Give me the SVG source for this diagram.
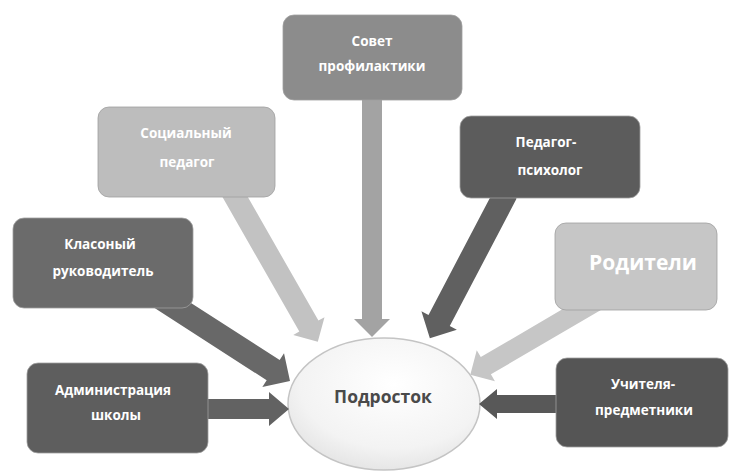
<svg xmlns="http://www.w3.org/2000/svg" width="730" height="472" viewBox="0 0 730 472">
<defs>
<radialGradient id="eg" cx="0.55" cy="0.35" r="0.75">
<stop offset="0" stop-color="#ffffff"/>
<stop offset="0.65" stop-color="#f3f3f3"/>
<stop offset="1" stop-color="#dedede"/>
</radialGradient>
</defs>
<style>
.box{stroke:#a0a0a0;stroke-width:0.8}
.t{font-family:"Open Sans","DejaVu Sans",sans-serif;font-weight:bold;fill:#ffffff;text-anchor:middle;font-size:13.5px}
.c{font-family:"Open Sans","DejaVu Sans",sans-serif;font-weight:bold;fill:#4a4a4a;text-anchor:middle;font-size:17.5px}
</style>
<rect width="730" height="472" fill="#ffffff"/>
<g id="podrostok">
<ellipse cx="384" cy="404" rx="96" ry="66" fill="url(#eg)" stroke="#c4c4c4" stroke-width="1.5"/>
<text class="c" x="383" y="403">Подросток</text>
</g>
<g id="connectors">
<path transform="translate(372,90) rotate(90)" d="M0,-10 H229 V-18 L247,0 L229,18 V10 H0Z" fill="#a3a3a3"/>
<path transform="translate(230,188) rotate(60.26)" d="M0,-11 H159 V-18 L177,0 L159,18 V11 H0Z" fill="#c2c2c2"/>
<path transform="translate(506,193) rotate(117.66)" d="M0,-12 H144 V-20 L164,0 L144,20 V12 H0Z" fill="#606060"/>
<path transform="translate(158,296) rotate(32.78)" d="M0,-12 H137 V-20 L157,0 L137,20 V12 H0Z" fill="#686868"/>
<path transform="translate(598,300) rotate(149.63)" d="M0,-10 H130 V-18 L148,0 L130,18 V10 H0Z" fill="#c6c6c6"/>
<path transform="translate(200,409) rotate(0)" d="M0,-10 H69 V-17 L89,0 L69,17 V10 H0Z" fill="#626262"/>
<path transform="translate(565,404) rotate(180)" d="M0,-9 H68 V-15 L86,0 L68,15 V9 H0Z" fill="#585858"/>
</g>
<g id="sovet">
<rect class="box" x="283" y="15" width="179" height="85" rx="11" fill="#8c8c8c"/>
<text class="t" x="372" y="46">Совет</text>
<text class="t" x="372" y="71">профилактики</text>
</g>
<g id="socped">
<rect class="box" x="98" y="107" width="177" height="90" rx="11" fill="#bdbdbd"/>
<text class="t" x="186" y="138">Социальный</text>
<text class="t" x="187" y="167">педагог</text>
</g>
<g id="pedpsy">
<rect class="box" x="460" y="116" width="180" height="82" rx="11" fill="#5c5c5c"/>
<text class="t" x="546" y="147">Педагог-</text>
<text class="t" x="550" y="175">психолог</text>
</g>
<g id="klruk">
<rect class="box" x="13" y="218" width="180" height="90" rx="11" fill="#6b6b6b"/>
<text class="t" x="100" y="249">Класоный</text>
<text class="t" x="103" y="276">руководитель</text>
</g>
<g id="roditeli">
<rect class="box" x="555" y="223" width="162" height="87" rx="11" fill="#c6c6c6"/>
<text class="t" x="643" y="270" style="font-size:21px">Родители</text>
</g>
<g id="admin">
<rect class="box" x="27" y="363" width="181" height="90" rx="11" fill="#5e5e5e"/>
<text class="t" x="113" y="395">Администрация</text>
<text class="t" x="116" y="420">школы</text>
</g>
<g id="uchitelya">
<rect class="box" x="556" y="358" width="172" height="89" rx="11" fill="#555555"/>
<text class="t" x="643" y="389">Учителя-</text>
<text class="t" x="644" y="415">предметники</text>
</g>
</svg>
